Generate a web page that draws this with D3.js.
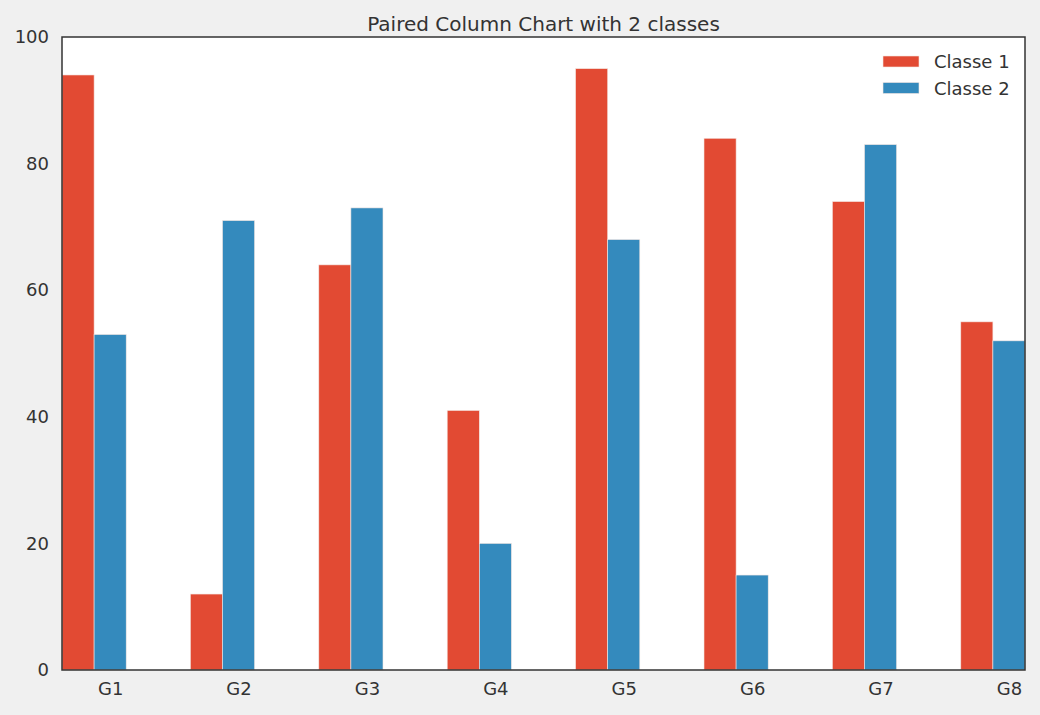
<!DOCTYPE html>
<html>
<head>
<meta charset="utf-8">
<script src="https://cdn.jsdelivr.net/npm/d3@7"></script>
<style>
  body { margin: 0; background: #f0f0f0; }
  svg { display: block; font-family: "DejaVu Sans", sans-serif; }
</style>
</head>
<body>
<div id="chart"></div>
<script>
var groups = ["G1", "G2", "G3", "G4", "G5", "G6", "G7", "G8"],
    classNames = ["Classe 1", "Classe 2"],
    classe1 = [94, 12, 64, 41, 95, 84, 74, 55],
    classe2 = [53, 71, 73, 20, 68, 15, 83, 52],
    yTicks = [0, 20, 40, 60, 80, 100],
    colors = ["#E24A33", "#348ABD"];

var width = 1040, height = 715,
    margin = {top: 37, right: 15, bottom: 45, left: 62},
    innerW = width - margin.left - margin.right,
    innerH = height - margin.top - margin.bottom;

var svg = d3.select("#chart").append("svg")
    .attr("width", width)
    .attr("height", height);

svg.append("rect")
    .attr("width", width).attr("height", height)
    .attr("fill", "#f0f0f0");

var g = svg.append("g")
    .attr("transform", "translate(" + margin.left + "," + margin.top + ")");

g.append("rect")
    .attr("width", innerW).attr("height", innerH)
    .attr("fill", "#ffffff");

// bar width 0.25 per group slot, groups one unit apart
var barW = 0.25;
var x = d3.scaleLinear()
    .domain([0, groups.length - 1 + 2 * barW])
    .range([0, innerW]);
var y = d3.scaleLinear().domain([0, 100]).range([innerH, 0]);

var series = [classe1, classe2];
series.forEach(function(vals, s){
    g.selectAll(".bar" + s)
        .data(vals)
        .enter().append("rect")
        .attr("class", "bar" + s)
        .attr("x", function(d, i){ return x(i + s * barW); })
        .attr("width", x(barW) - x(0))
        .attr("y", function(d){ return y(d); })
        .attr("height", function(d){ return y(0) - y(d); })
        .attr("fill", colors[s])
        .attr("stroke", "#f4e6e2")
        .attr("stroke-width", 0.6);
});

// axes (no tick marks)
var yAxis = d3.axisLeft(y).tickValues(yTicks).tickSize(0).tickPadding(13);
g.append("g").call(yAxis)
    .call(function(a){ a.select(".domain").remove(); })
    .selectAll("text")
    .attr("font-size", "18px")
    .attr("fill", "#333333")
    .attr("font-family", "DejaVu Sans, sans-serif");

var xAxis = d3.axisBottom(x)
    .tickValues(groups.map(function(d, i){ return i + 1.5 * barW; }))
    .tickFormat(function(d, i){ return groups[i]; })
    .tickSize(0).tickPadding(12);
g.append("g")
    .attr("transform", "translate(0," + innerH + ")")
    .call(xAxis)
    .call(function(a){ a.select(".domain").remove(); })
    .selectAll("text")
    .attr("font-size", "18px")
    .attr("fill", "#333333")
    .attr("font-family", "DejaVu Sans, sans-serif");

// frame
g.append("rect")
    .attr("width", innerW).attr("height", innerH)
    .attr("fill", "none")
    .attr("stroke", "#333333")
    .attr("stroke-width", 1.5);

// title
svg.append("text")
    .attr("x", margin.left + innerW / 2)
    .attr("y", 31)
    .attr("text-anchor", "middle")
    .attr("font-size", "20px")
    .attr("fill", "#333333")
    .text("Paired Column Chart with 2 classes");

// legend
var legend = g.selectAll(".legend")
    .data(classNames)
    .enter().append("g")
    .attr("class", "legend")
    .attr("transform", function(d, i){ return "translate(" + (innerW - 142) + "," + (19 + i * 26.5) + ")"; });

legend.append("rect")
    .attr("width", 36).attr("height", 11)
    .attr("fill", function(d, i){ return colors[i]; })
    .attr("stroke", "#f4e6e2")
    .attr("stroke-width", 0.6);

legend.append("text")
    .attr("x", 51).attr("y", 12)
    .attr("font-size", "18px")
    .attr("fill", "#333333")
    .text(function(d){ return d; });
</script>
</body>
</html>
